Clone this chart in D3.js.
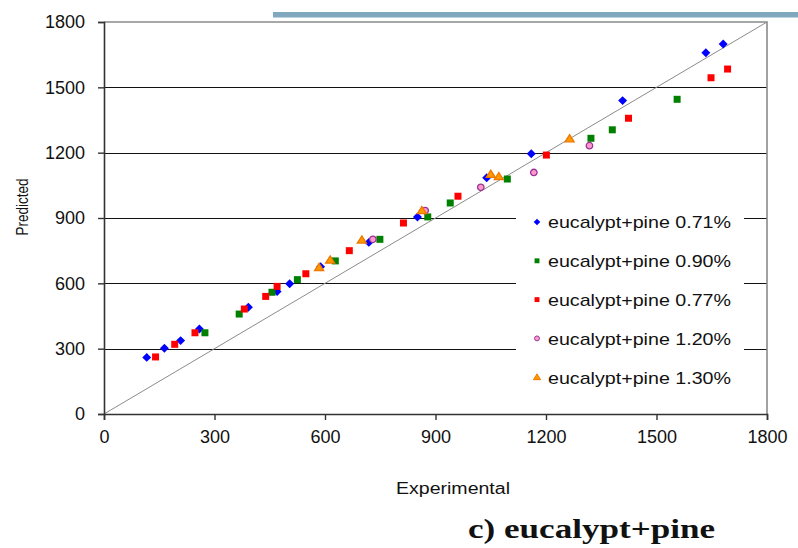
<!DOCTYPE html>
<html>
<head>
<meta charset="utf-8">
<script src="https://cdn.jsdelivr.net/npm/d3@7"></script>
<style>
  html, body { margin: 0; padding: 0; background: #fff; }
  svg { display: block; }
  text { font-family: "Liberation Sans", Arial, sans-serif; fill: #111; }
  text.caption { font-family: "Liberation Serif", "Times New Roman", serif; font-weight: bold; }
</style>
</head>
<body>
<svg id="chart" width="798" height="548"></svg>
<script>
// Experimental vs. predicted values for each eucalypt+pine blend
const seriesNames = ["eucalypt+pine 0.71%", "eucalypt+pine 0.90%", "eucalypt+pine 0.77%", "eucalypt+pine 1.20%", "eucalypt+pine 1.30%"];

const blueX = [116, 164, 208, 259, 392, 470, 504, 588, 719, 851, 1039, 1160, 1408, 1634, 1681];
const blueY = [260, 302, 337, 390, 490, 562, 598, 676, 788, 905, 1085, 1195, 1439, 1659, 1699];

const greenX = [274, 367, 456, 525, 628, 749, 879, 940, 1095, 1322, 1380, 1556];
const greenY = [373, 459, 559, 617, 703, 802, 905, 969, 1079, 1266, 1305, 1445];

const redX = [140, 192, 247, 381, 439, 470, 548, 666, 813, 961, 1201, 1424, 1648, 1693];
const redY = [262, 320, 373, 482, 540, 586, 644, 750, 877, 1000, 1189, 1358, 1544, 1584];

const pinkX = [730, 872, 1023, 1167, 1318];
const pinkY = [802, 934, 1041, 1109, 1232];

const orangeX = [584, 614, 700, 863, 1050, 1072, 1264];
const orangeY = [673, 707, 799, 934, 1101, 1090, 1264];

const tickValues = [0, 300, 600, 900, 1200, 1500, 1800];
const xTitle = "Experimental";
const yTitle = "Predicted";
const caption = "c) eucalypt+pine";

const svg = d3.select("#chart");

const x = d3.scaleLinear().domain([0, 1800]).range([104, 767]);
const y = d3.scaleLinear().domain([0, 1800]).range([414, 22]);

// decorative rule along the top edge
svg.append("rect").attr("x", 273).attr("y", 12).attr("width", 525).attr("height", 5.5).attr("fill", "#80a9c0");

// horizontal gridlines
svg.append("g").selectAll("line").data(tickValues.slice(1, -1)).join("line")
  .attr("x1", x(0)).attr("x2", x(1800))
  .attr("y1", d => Math.round(y(d)) + 0.5).attr("y2", d => Math.round(y(d)) + 0.5)
  .attr("stroke", "#111").attr("stroke-width", 1.2);

// plot frame (top and right)
svg.append("path")
  .attr("d", `M${x(0)},${y(1800)}H${x(1800)}V${y(0)}`)
  .attr("fill", "none").attr("stroke", "#8a8a8a").attr("stroke-width", 1.6);

// 1:1 reference line
svg.append("line")
  .attr("x1", x(0)).attr("y1", y(0)).attr("x2", x(1800)).attr("y2", y(1800))
  .attr("stroke", "#8c8c8c").attr("stroke-width", 1);

// axes
const xAxis = svg.append("g").attr("transform", `translate(0,${y(0)})`)
  .call(d3.axisBottom(x).tickValues(tickValues).tickSize(6).tickPadding(10).tickFormat(d3.format("d")));
const yAxis = svg.append("g").attr("transform", `translate(${x(0)},0)`)
  .call(d3.axisLeft(y).tickValues(tickValues).tickSize(6).tickPadding(13).tickFormat(d3.format("d")));
[xAxis, yAxis].forEach(a => {
  a.select(".domain").attr("stroke", "#333").attr("stroke-width", 1.6);
  a.selectAll(".tick line").attr("stroke", "#333").attr("stroke-width", 1.4);
  a.selectAll(".tick text").attr("font-size", 18).attr("fill", "#111");
});

// axis titles
svg.append("text").attr("x", 453).attr("y", 494).attr("text-anchor", "middle")
  .attr("font-size", 16).attr("textLength", 114).attr("lengthAdjust", "spacingAndGlyphs").text(xTitle);
svg.append("text").attr("transform", "translate(28,207) scale(1.2,1) rotate(-90)").attr("text-anchor", "middle")
  .attr("font-size", 13.5).text(yTitle);

// caption
svg.append("text").attr("class", "caption").attr("x", 468).attr("y", 538)
  .attr("font-size", 27).attr("textLength", 247).attr("lengthAdjust", "spacingAndGlyphs")
  .text(caption);

// marker shapes
const diamond = { draw(ctx, s) { const r = Math.sqrt(s) / 2 * 1.35; ctx.moveTo(0, -r); ctx.lineTo(r, 0); ctx.lineTo(0, r); ctx.lineTo(-r, 0); ctx.closePath(); } };
const square = { draw(ctx, s) { const h = Math.sqrt(s) / 2; ctx.rect(-h, -h, 2 * h, 2 * h); } };
const triangle = { draw(ctx, s) { const h = Math.sqrt(s) * 0.62; ctx.moveTo(0, -h); ctx.lineTo(h * 1.1, h * 0.75); ctx.lineTo(-h * 1.1, h * 0.75); ctx.closePath(); } };
const circle = { draw(ctx, s) { const r = Math.sqrt(s) / 2; ctx.moveTo(r, 0); ctx.arc(0, 0, r, 0, 2 * Math.PI); } };

const series = [
  { name: seriesNames[0], xs: blueX, ys: blueY, shape: diamond, size: 44, fill: "#0000ff", stroke: "none", lsize: 24 },
  { name: seriesNames[1], xs: greenX, ys: greenY, shape: square, size: 49, fill: "#008000", stroke: "none", lsize: 24 },
  { name: seriesNames[2], xs: redX, ys: redY, shape: square, size: 49, fill: "#ff0000", stroke: "none", lsize: 24 },
  { name: seriesNames[3], xs: pinkX, ys: pinkY, shape: circle, size: 42, fill: "#ff99cc", stroke: "#993399", lsize: 24 },
  { name: seriesNames[4], xs: orangeX, ys: orangeY, shape: triangle, size: 44, fill: "#ff9900", stroke: "#ee7700", lsize: 28 }
];

// legend panel sits over the gridlines
const legend = svg.append("g");
legend.append("rect").attr("x", 516).attr("y", 200).attr("width", 228).attr("height", 196).attr("fill", "#fff");

series.forEach((s, i) => {
  svg.append("g").selectAll("path").data(s.xs.map((v, j) => [v, s.ys[j]])).join("path")
    .attr("transform", d => `translate(${x(d[0])},${y(d[1])})`)
    .attr("d", d3.symbol().type(s.shape).size(s.size)())
    .attr("fill", s.fill).attr("stroke", s.stroke).attr("stroke-width", s.stroke === "none" ? 0 : 1.3);

  const ly = 222 + i * 38.8;
  legend.append("path").attr("transform", `translate(537,${ly})`)
    .attr("d", d3.symbol().type(s.shape).size(s.lsize)())
    .attr("fill", s.fill).attr("stroke", s.stroke).attr("stroke-width", s.stroke === "none" ? 0 : 1);
  legend.append("text").attr("x", 548).attr("y", ly + 6.3).attr("font-size", 17)
    .attr("textLength", 183).attr("lengthAdjust", "spacingAndGlyphs").text(s.name);
});
</script>
</body>
</html>
